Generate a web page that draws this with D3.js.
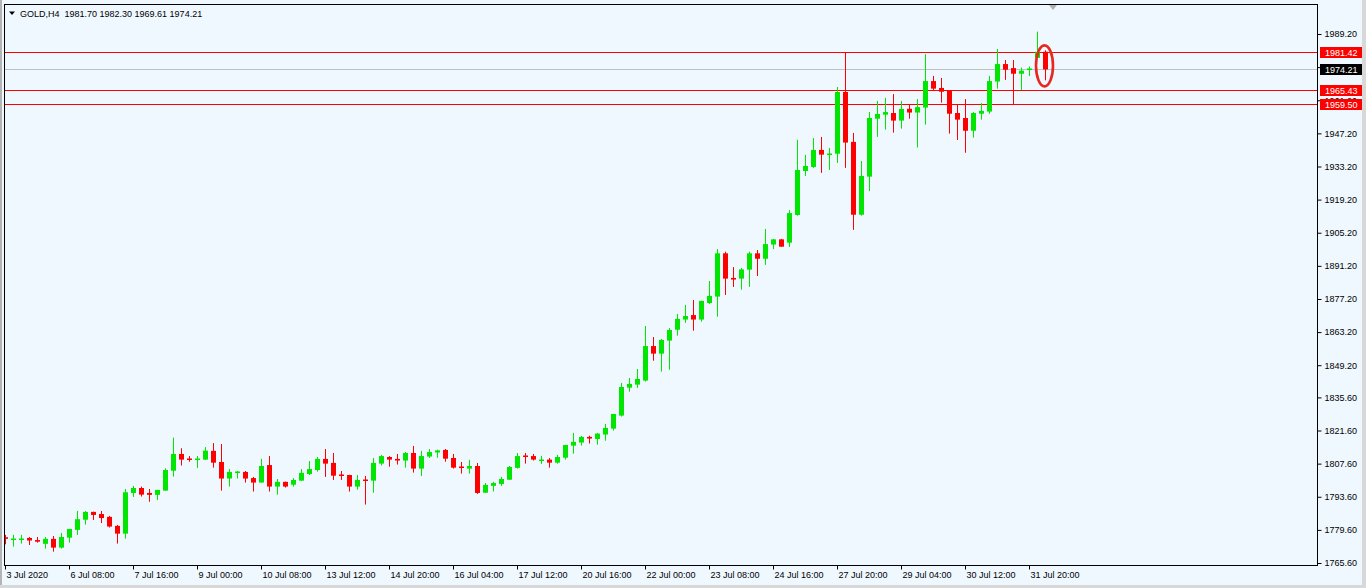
<!DOCTYPE html>
<html><head><meta charset="utf-8">
<script src="https://cdn.jsdelivr.net/npm/d3@7"></script>
<style>
html,body{margin:0;padding:0;background:#f0f8ff;overflow:hidden;}
svg{display:block;font-family:"Liberation Sans",Arial,sans-serif;}
</style>
</head><body>
<svg id="c" width="1366" height="588"></svg>
<script>
// ---------- DATA ----------
const chartTitle = "GOLD,H4  1981.70 1982.30 1969.61 1974.21";

const opens = [
1776.5,1775.9,1775.8,1776.2,1775.3,1773.7,1775.8,1772.1,1776.3,1779.6,
1783.9,1787.2,1786.3,1785.1,1781.3,1778.0,1795.2,1797.3,1795.2,1794.4,
1796.2,1804.6,1811.7,1809.7,1809.3,1809.3,1813.0,1808.3,1801.3,1803.8,
1804.1,1801.5,1799.6,1807.0,1797.9,1799.9,1798.7,1800.4,1803.2,1804.9,
1809.6,1807.9,1802.8,1802.8,1797.9,1800.7,1800.4,1807.6,1810.4,1809.6,
1808.9,1812.1,1805.5,1810.6,1812.3,1813.4,1810.0,1806.2,1805.5,1806.6,
1795.3,1798.2,1799.0,1800.8,1805.8,1810.8,1810.8,1809.0,1809.3,1808.0,
1810.1,1815.2,1816.5,1818.9,1818.0,1819.9,1822.4,1827.9,1839.7,1841.0,
1842.7,1857.3,1854.1,1859.6,1864.2,1868.5,1870.4,1868.5,1875.5,1878.2,
1896.5,1886.1,1885.8,1889.6,1896.5,1894.2,1900.2,1902.4,1901.0,1912.7,
1931.3,1933.0,1940.2,1938.3,1938.6,1964.7,1943.6,1912.8,1928.9,1953.4,
1955.1,1955.8,1952.6,1957.6,1956.0,1958.1,1969.3,1966.4,1965.4,1955.8,
1953.7,1948.3,1955.5,1956.4,1969.1,1976.5,1974.8,1972.4,1974.1,1979.1,
1981.70];
const highs = [
1777.5,1777.5,1777.5,1776.6,1776.6,1776.6,1777.0,1778.3,1780.0,1787.6,
1787.6,1787.3,1787.6,1785.5,1781.7,1796.9,1798.2,1797.9,1796.9,1796.5,
1805.6,1818.6,1814.1,1810.8,1810.8,1814.6,1816.3,1815.9,1805.3,1804.5,
1804.5,1802.0,1809.6,1810.8,1801.1,1800.0,1801.5,1805.3,1808.7,1810.4,
1813.8,1812.1,1804.5,1802.9,1802.8,1802.4,1810.0,1811.3,1810.8,1811.7,
1812.5,1815.1,1813.0,1813.8,1813.5,1813.8,1811.7,1808.3,1809.2,1807.9,
1799.4,1799.9,1802.0,1806.6,1812.1,1812.1,1811.7,1810.9,1810.0,1811.3,
1815.5,1820.6,1819.3,1819.4,1820.6,1824.4,1828.6,1841.7,1843.8,1847.6,
1865.8,1861.1,1860.3,1864.9,1870.9,1874.7,1876.8,1876.4,1884.8,1898.3,
1897.2,1890.7,1890.3,1897.2,1897.9,1906.8,1902.6,1902.6,1914.8,1944.5,
1938.1,1945.2,1945.7,1941.0,1966.8,1981.3,1947.4,1935.5,1956.2,1960.9,
1962.2,1963.8,1960.9,1959.3,1961.7,1980.7,1971.5,1970.6,1965.5,1959.3,
1961.7,1956.2,1960.0,1971.5,1982.9,1978.2,1978.2,1975.0,1975.5,1990.2,
1982.30];
const lows = [
1773.5,1772.5,1773.8,1773.2,1774.2,1771.7,1770.4,1771.7,1774.2,1777.5,
1781.8,1783.8,1782.5,1780.6,1773.8,1775.9,1793.5,1793.7,1791.5,1792.2,
1796.1,1802.1,1806.8,1808.4,1805.8,1809.2,1805.9,1796.2,1797.9,1801.3,
1799.6,1795.8,1799.6,1795.8,1794.5,1797.5,1797.9,1800.3,1802.8,1804.2,
1802.0,1800.7,1800.7,1795.8,1796.6,1790.3,1795.3,1806.8,1806.3,1807.2,
1805.9,1803.8,1802.4,1810.0,1810.1,1808.4,1805.5,1803.4,1803.4,1794.8,
1795.3,1795.8,1798.2,1800.7,1805.5,1807.6,1808.9,1807.5,1805.9,1807.6,
1809.3,1811.8,1815.2,1816.1,1815.6,1817.3,1821.6,1827.5,1838.0,1839.6,
1842.3,1851.1,1846.5,1847.3,1861.7,1867.1,1863.8,1867.6,1875.1,1869.7,
1878.9,1882.3,1881.1,1882.3,1886.9,1891.6,1898.3,1899.3,1899.2,1912.4,
1929.2,1932.6,1930.5,1931.7,1934.7,1932.6,1906.4,1912.4,1922.8,1945.7,
1948.8,1947.5,1949.2,1953.4,1941.2,1950.9,1965.5,1960.2,1947.1,1944.4,
1939.0,1945.4,1953.0,1955.5,1966.1,1969.8,1959.5,1965.5,1971.5,1979.1,
1969.61];
const closes = [
1775.8,1776.0,1776.0,1775.1,1774.6,1775.8,1772.1,1776.6,1780.0,1784.1,
1787.2,1785.9,1784.6,1781.0,1778.0,1795.5,1797.3,1794.5,1794.4,1796.5,
1804.9,1811.7,1809.3,1809.4,1809.6,1813.1,1808.0,1801.3,1804.1,1804.1,
1801.3,1799.6,1806.6,1797.9,1799.9,1797.9,1800.7,1803.7,1805.3,1809.6,
1807.6,1802.5,1802.5,1797.9,1800.7,1800.4,1807.9,1810.8,1809.3,1808.9,
1812.1,1805.5,1810.8,1812.5,1813.2,1809.7,1805.9,1805.8,1806.6,1795.2,
1798.6,1799.4,1801.1,1806.2,1810.8,1810.7,1809.3,1809.2,1808.0,1810.4,
1815.5,1816.8,1818.9,1818.2,1820.3,1822.7,1828.6,1840.0,1841.3,1843.4,
1857.3,1854.1,1859.9,1864.1,1868.8,1870.0,1868.5,1876.4,1878.5,1896.5,
1885.8,1885.4,1889.7,1896.5,1894.2,1900.4,1902.4,1899.3,1913.5,1931.7,
1933.4,1940.2,1938.2,1938.6,1964.7,1943.3,1912.8,1929.2,1953.7,1955.4,
1956.2,1952.6,1957.5,1956.0,1958.3,1969.3,1966.1,1964.8,1955.5,1953.0,
1948.3,1955.8,1956.7,1969.3,1976.5,1974.1,1972.4,1973.7,1974.3,1981.7,
1974.21];

const priceTicks = [1989.20,1975.20,1961.20,1947.20,1933.20,1919.20,1905.20,1891.20,
  1877.20,1863.20,1849.20,1835.60,1821.60,1807.60,1793.60,1779.60,1765.60];

const timeTickBars = [0,8,16,24,32,40,48,56,64,72,80,88,96,104,112,120,128];
const timeTickLabels = ["3 Jul 2020","6 Jul 08:00","7 Jul 16:00","9 Jul 00:00","10 Jul 08:00",
  "13 Jul 12:00","14 Jul 20:00","16 Jul 04:00","17 Jul 12:00","20 Jul 16:00","22 Jul 00:00",
  "23 Jul 08:00","24 Jul 16:00","27 Jul 20:00","29 Jul 04:00","30 Jul 12:00","31 Jul 20:00"];

const levelLines = [1981.42, 1965.43, 1959.50];
const bidPrice = 1974.21;

// ---------- DRAW ----------
const W = 1366, H = 588;
const plot = {left: 4, top: 4, right: 1317, bottom: 565};
const svg = d3.select("#c");
const bull = "#00e600", bear = "#ff0000";

svg.append("rect").attr("width", W).attr("height", H).attr("fill", "#f0f8ff");
// window edges
svg.append("rect").attr("x",0).attr("y",0).attr("width",2).attr("height",H).attr("fill","#b4b4b4");
svg.append("rect").attr("x",1362).attr("y",0).attr("width",4).attr("height",H).attr("fill","#d8d8d8");
svg.append("rect").attr("x",0).attr("y",585).attr("width",W).attr("height",3).attr("fill","#d8d8d8");

const x = d3.scaleLinear().domain([0, 164]).range([5, 1317]);
const y = d3.scaleLinear().domain([1765.6, 1989.2]).range([563, 34]);

svg.append("defs").append("clipPath").attr("id","clip")
  .append("rect").attr("x",plot.left).attr("y",plot.top)
  .attr("width",plot.right-plot.left).attr("height",plot.bottom-plot.top);

const g = svg.append("g").attr("clip-path","url(#clip)");

// level lines
g.append("line").attr("x1",plot.left).attr("x2",plot.right)
  .attr("y1",Math.round(y(bidPrice))+0.5).attr("y2",Math.round(y(bidPrice))+0.5)
  .attr("stroke","#c0c0c0").attr("stroke-width",1);
g.selectAll("line.lvl").data(levelLines).join("line").attr("class","lvl")
  .attr("x1",plot.left).attr("x2",plot.right)
  .attr("y1",d=>Math.round(y(d))+0.5).attr("y2",d=>Math.round(y(d))+0.5)
  .attr("stroke","#ff0000").attr("stroke-width",1);

// candles
const bars = d3.range(opens.length).map(i => ({i, o: opens[i], h: highs[i], l: lows[i], c: closes[i]}));
const cg = g.selectAll("g.candle").data(bars).join("g").attr("class","candle");
cg.append("line")
  .attr("x1",d=>Math.round(x(d.i))+0.5).attr("x2",d=>Math.round(x(d.i))+0.5)
  .attr("y1",d=>y(d.h)).attr("y2",d=>y(d.l))
  .attr("stroke",d=>d.c>=d.o?bull:bear).attr("stroke-width",1);
cg.append("rect")
  .attr("x",d=>Math.round(x(d.i))-2).attr("width",5)
  .attr("y",d=>{const t=y(Math.max(d.o,d.c)), b=y(Math.min(d.o,d.c)); return (b-t)<1.5 ? Math.round((t+b)/2)-0.5 : t;})
  .attr("height",d=>{const t=y(Math.max(d.o,d.c)), b=y(Math.min(d.o,d.c)); return Math.max(1.5, b-t);})
  .attr("fill",d=>d.c>=d.o?bull:bear);

// frame
svg.append("rect").attr("x",plot.left+0.5).attr("y",plot.top+0.5)
  .attr("width",plot.right-plot.left).attr("height",plot.bottom-plot.top)
  .attr("fill","none").attr("stroke","#000").attr("stroke-width",1);

// right price axis
const ay = svg.append("g").attr("transform",`translate(${plot.right+0.5},0)`)
  .call(d3.axisRight(y).tickValues(priceTicks).tickFormat(d3.format(".2f")).tickSize(4).tickPadding(3));
ay.select(".domain").remove();
ay.selectAll("line").attr("stroke","#000");
ay.selectAll("text").attr("fill","#000").attr("font-size","9px")
  .attr("font-family","'Liberation Sans',Arial,sans-serif");

// bottom time axis
const ax = svg.append("g").attr("transform",`translate(0,${plot.bottom+0.5})`)
  .call(d3.axisBottom(x).tickValues(timeTickBars).tickFormat((d,k)=>timeTickLabels[k]).tickSize(4));
ax.select(".domain").remove();
ax.selectAll("line").attr("stroke","#000");
ax.selectAll("text").attr("fill","#000").attr("font-size","9px")
  .attr("font-family","'Liberation Sans',Arial,sans-serif")
  .attr("text-anchor","start").attr("x",1).attr("y",12).attr("dy",null);

// price labels for level lines
const labs = levelLines.map(v=>({v, bg:"#ff0000"})).concat([{v: bidPrice, bg:"#000000"}]);
const lg = svg.selectAll("g.plab").data(labs).join("g").attr("class","plab");
lg.append("rect").attr("x",1320).attr("width",42)
  .attr("y",d=>Math.round(y(d.v))-5).attr("height",11).attr("fill",d=>d.bg);
lg.append("text").attr("x",1325).attr("y",d=>Math.round(y(d.v))+4)
  .attr("fill","#fff").attr("font-size","9px").text(d=>d.v.toFixed(2));

// title
svg.append("path").attr("d","M9,11.5 L15,11.5 L12,15 Z").attr("fill","#000");
svg.append("text").attr("x",20).attr("y",16.5).attr("font-size","9px").attr("fill","#000")
  .attr("xml:space","preserve").style("white-space","pre").text(chartTitle);

// chart shift marker
svg.append("path").attr("d","M1049,5 L1057,5 L1053,10 Z").attr("fill","#b0b0b0");

// highlight ellipse on last bar
const last = bars[bars.length-1];
svg.append("ellipse").attr("cx",x(last.i)-0.5).attr("cy",(y(last.h)+y(last.l))/2+0.5)
  .attr("rx",8.5).attr("ry",20.5).attr("fill","none").attr("stroke","#e8281e").attr("stroke-width",2.6);
</script>
</body></html>
